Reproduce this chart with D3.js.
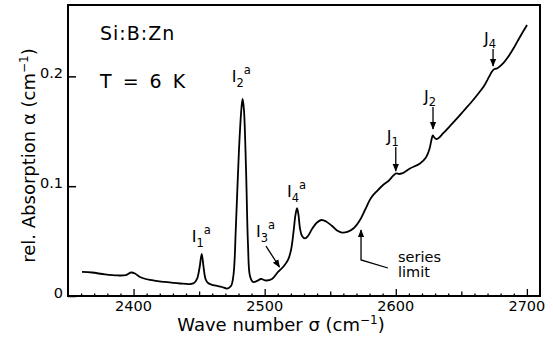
<!DOCTYPE html>
<html>
<head>
<meta charset="utf-8">
<script src="https://cdn.jsdelivr.net/npm/d3@7"></script>
<style>
  body { margin: 0; background: #fff; }
  text { font-family: "DejaVu Sans", sans-serif; fill: #000; }
</style>
</head>
<body>
<div id="chart"></div>
<script>
// spectrum: wave number (cm-1) / rel. absorption (cm-1)
const waveNumber = [
  2360.7, 2368.3, 2378.2, 2388.1, 2394.2, 2398.0, 2401.1, 2404.9, 2412.5, 2424.0,
  2435.4, 2443.1, 2446.1, 2448.4, 2450.3, 2452.0, 2453.3, 2454.9, 2456.8, 2460.6,
  2464.4, 2467.5, 2471.3, 2474.3, 2476.2, 2478.1, 2480.4, 2482.3, 2483.2, 2484.2,
  2485.8, 2487.3, 2488.8, 2491.1, 2494.2, 2497.2, 2501.0, 2505.6, 2510.2, 2514.7,
  2517.8, 2520.1, 2522.0, 2523.5, 2524.7, 2525.8, 2526.9, 2528.5, 2530.8, 2533.0,
  2536.1, 2539.9, 2543.3, 2546.8, 2551.4, 2555.2, 2559.0, 2563.6, 2568.1, 2572.7,
  2576.5, 2581.1, 2585.7, 2590.3, 2594.8, 2597.9, 2600.2, 2602.5, 2604.7, 2610.8,
  2618.5, 2623.0, 2625.7, 2627.2, 2628.2, 2629.1, 2630.7, 2632.2, 2636.0, 2641.3,
  2646.7, 2652.0, 2657.4, 2662.7, 2667.3, 2671.1, 2673.4, 2675.3, 2677.2, 2681.8,
  2686.4, 2690.2, 2694.7, 2700.1
];
const absorption = [
  0.0219, 0.0214, 0.0196, 0.0187, 0.0191, 0.0214, 0.0205, 0.0173, 0.0146, 0.0128,
  0.0114, 0.0109, 0.0118, 0.0155, 0.0255, 0.0383, 0.0273, 0.0155, 0.0118, 0.0100,
  0.0091, 0.0082, 0.0068, 0.0091, 0.0191, 0.0647, 0.1330, 0.1712, 0.1794, 0.1694,
  0.1148, 0.0464, 0.0182, 0.0128, 0.0137, 0.0155, 0.0141, 0.0155, 0.0219, 0.0273,
  0.0328, 0.0419, 0.0583, 0.0738, 0.0801, 0.0738, 0.0619, 0.0546, 0.0524, 0.0546,
  0.0610, 0.0669, 0.0692, 0.0679, 0.0638, 0.0597, 0.0578, 0.0587, 0.0619, 0.0692,
  0.0783, 0.0893, 0.0956, 0.1011, 0.1052, 0.1093, 0.1116, 0.1111, 0.1116, 0.1161,
  0.1207, 0.1261, 0.1339, 0.1421, 0.1462, 0.1448, 0.1430, 0.1434, 0.1480, 0.1548,
  0.1617, 0.1689, 0.1762, 0.1840, 0.1913, 0.1995, 0.2045, 0.2067, 0.2072, 0.2118,
  0.2190, 0.2263, 0.2359, 0.2468
];

const xTicks = [2400, 2500, 2600, 2700];
const yTicks = [0, 0.1, 0.2];
const yTickLabels = ['0', '0.1', '0.2'];

// I_n^a line labels (anchor in data units)
const peakIndex = ['1', '2', '3', '4'];
const peakLabelX = [2444.4, 2474.9, 2493.4, 2517.0];
const peakLabelY = [0.0492, 0.1949, 0.0533, 0.0902];

// J_n markers: position and arrow span
const jIndex = ['1', '2', '4'];
const jX = [2600.0, 2628.4, 2674.2];
const jTop = [0.1357, 0.1721, 0.2250];
const jBottom = [0.1138, 0.1521, 0.2095];

const margin = { top: 5, right: 13, bottom: 45, left: 68 };
const width = 553 - margin.left - margin.right;
const height = 341 - margin.top - margin.bottom;

const svg = d3.select('#chart').append('svg')
  .attr('width', 553)
  .attr('height', 341)
  .append('g')
  .attr('transform', 'translate(' + margin.left + ',' + margin.top + ')');

const x = d3.scaleLinear().domain([2350, 2710]).range([0, width]);
const y = d3.scaleLinear().domain([0, 0.265]).range([height, 0]);

svg.append('defs').append('marker')
  .attr('id', 'head')
  .attr('viewBox', '0 0 10 10')
  .attr('refX', 9).attr('refY', 5)
  .attr('markerWidth', 8).attr('markerHeight', 8)
  .attr('markerUnits', 'userSpaceOnUse')
  .attr('orient', 'auto')
  .append('path').attr('d', 'M0,1 L10,5 L0,9 Z').attr('fill', '#000');

// bottom ticks, inward
const minor = d3.range(2360, 2710, 10);
svg.append('g').attr('class', 'x axis')
  .attr('transform', `translate(0,${height})`)
  .call(d3.axisBottom(x).tickValues(minor)
    .tickSizeInner(-2.5).tickSizeOuter(0).tickFormat(''))
  .call(g => g.select('.domain').remove())
  .selectAll('line')
  .attr('y2', d => d % 100 === 0 ? -7 : (d % 50 === 0 ? -4.5 : -2.5))
  .attr('stroke-width', 1.3);

svg.append('g')
  .selectAll('text').data(xTicks).enter().append('text')
  .attr('x', d => x(d))
  .attr('y', height + 15)
  .attr('text-anchor', 'middle')
  .style('font-size', '14.5px')
  .text(d => d);

// left ticks
svg.append('g').attr('class', 'y axis')
  .call(d3.axisLeft(y).tickValues(yTicks).tickSizeInner(-8).tickSizeOuter(0).tickFormat(''))
  .call(g => g.select('.domain').remove())
  .selectAll('line').attr('stroke-width', 1.5);

svg.append('g')
  .selectAll('text').data(yTicks).enter().append('text')
  .attr('x', -5)
  .attr('y', d => y(d) + 2)
  .attr('text-anchor', 'end')
  .style('font-size', '14.5px')
  .text((d, i) => yTickLabels[i]);

// frame
svg.append('rect')
  .attr('width', width).attr('height', height)
  .attr('fill', 'none').attr('stroke', '#000').attr('stroke-width', 2);

// spectrum
const line = d3.line()
  .x((d, i) => x(waveNumber[i]))
  .y(d => y(d))
  .curve(d3.curveCatmullRom.alpha(0.5));

svg.append('path')
  .datum(absorption)
  .attr('d', line)
  .attr('fill', 'none')
  .attr('stroke', '#000')
  .attr('stroke-width', 1.8)
  .attr('stroke-linejoin', 'round');

// I_n^a labels
peakIndex.forEach((n, i) => {
  const t = svg.append('text')
    .attr('x', x(peakLabelX[i]))
    .attr('y', y(peakLabelY[i]))
    .style('font-size', '16px');
  t.append('tspan').text('I');
  t.append('tspan').attr('dy', 5).style('font-size', '11.5px').text(n);
  t.append('tspan').attr('dy', -13).style('font-size', '11.5px').text('a');
});

// arrow to I3 shoulder
svg.append('line')
  .attr('x1', x(2501.0)).attr('y1', y(0.0455))
  .attr('x2', x(2511.3)).attr('y2', y(0.0264))
  .attr('stroke', '#000').attr('stroke-width', 1.3)
  .attr('marker-end', 'url(#head)');

// J markers
jIndex.forEach((n, i) => {
  svg.append('line')
    .attr('x1', x(jX[i])).attr('y1', y(jTop[i]))
    .attr('x2', x(jX[i])).attr('y2', y(jBottom[i]))
    .attr('stroke', '#000').attr('stroke-width', 1.3)
    .attr('marker-end', 'url(#head)');
  const t = svg.append('text')
    .attr('x', x(jX[i]) - 3)
    .attr('y', y(jTop[i]) - 5)
    .attr('text-anchor', 'middle')
    .style('font-size', '16px');
  t.append('tspan').text('J');
  t.append('tspan').attr('dy', 4).style('font-size', '11.5px').text(n);
});

// series limit
svg.append('path')
  .attr('d', d3.line()([[x(2594), y(0.0255)], [x(2573.5), y(0.0328)], [x(2573.5), y(0.0600)]]))
  .attr('fill', 'none').attr('stroke', '#000').attr('stroke-width', 1.3)
  .attr('marker-end', 'url(#head)');
svg.append('text').attr('x', x(2601.7)).attr('y', y(0.031))
  .style('font-size', '14.5px').text('series');
svg.append('text').attr('x', x(2601.7)).attr('y', y(0.0173))
  .style('font-size', '14.5px').text('limit');

// sample and temperature
svg.append('text').attr('x', x(2374.4)).attr('y', y(0.233))
  .style('font-size', '19px').style('letter-spacing', '1px').text('Si:B:Zn');
svg.append('text').attr('x', x(2374.4)).attr('y', y(0.189))
  .style('font-size', '19px').style('word-spacing', '5px').text('T = 6 K');

// axis titles
const xt = svg.append('text')
  .attr('x', width / 2 - 23)
  .attr('y', height + 35)
  .attr('text-anchor', 'middle')
  .style('font-size', '18px');
xt.append('tspan').text('Wave number σ (cm');
xt.append('tspan').attr('dy', -7).style('font-size', '12px').text('−1');
xt.append('tspan').attr('dy', 7).text(')');

const yt = svg.append('text')
  .attr('transform', `translate(-33,${height / 2 + 5}) rotate(-90)`)
  .attr('text-anchor', 'middle')
  .style('font-size', '18px');
yt.append('tspan').text('rel. Absorption α (cm');
yt.append('tspan').attr('dy', -7).style('font-size', '12px').text('−1');
yt.append('tspan').attr('dy', 7).text(')');
</script>
</body>
</html>
